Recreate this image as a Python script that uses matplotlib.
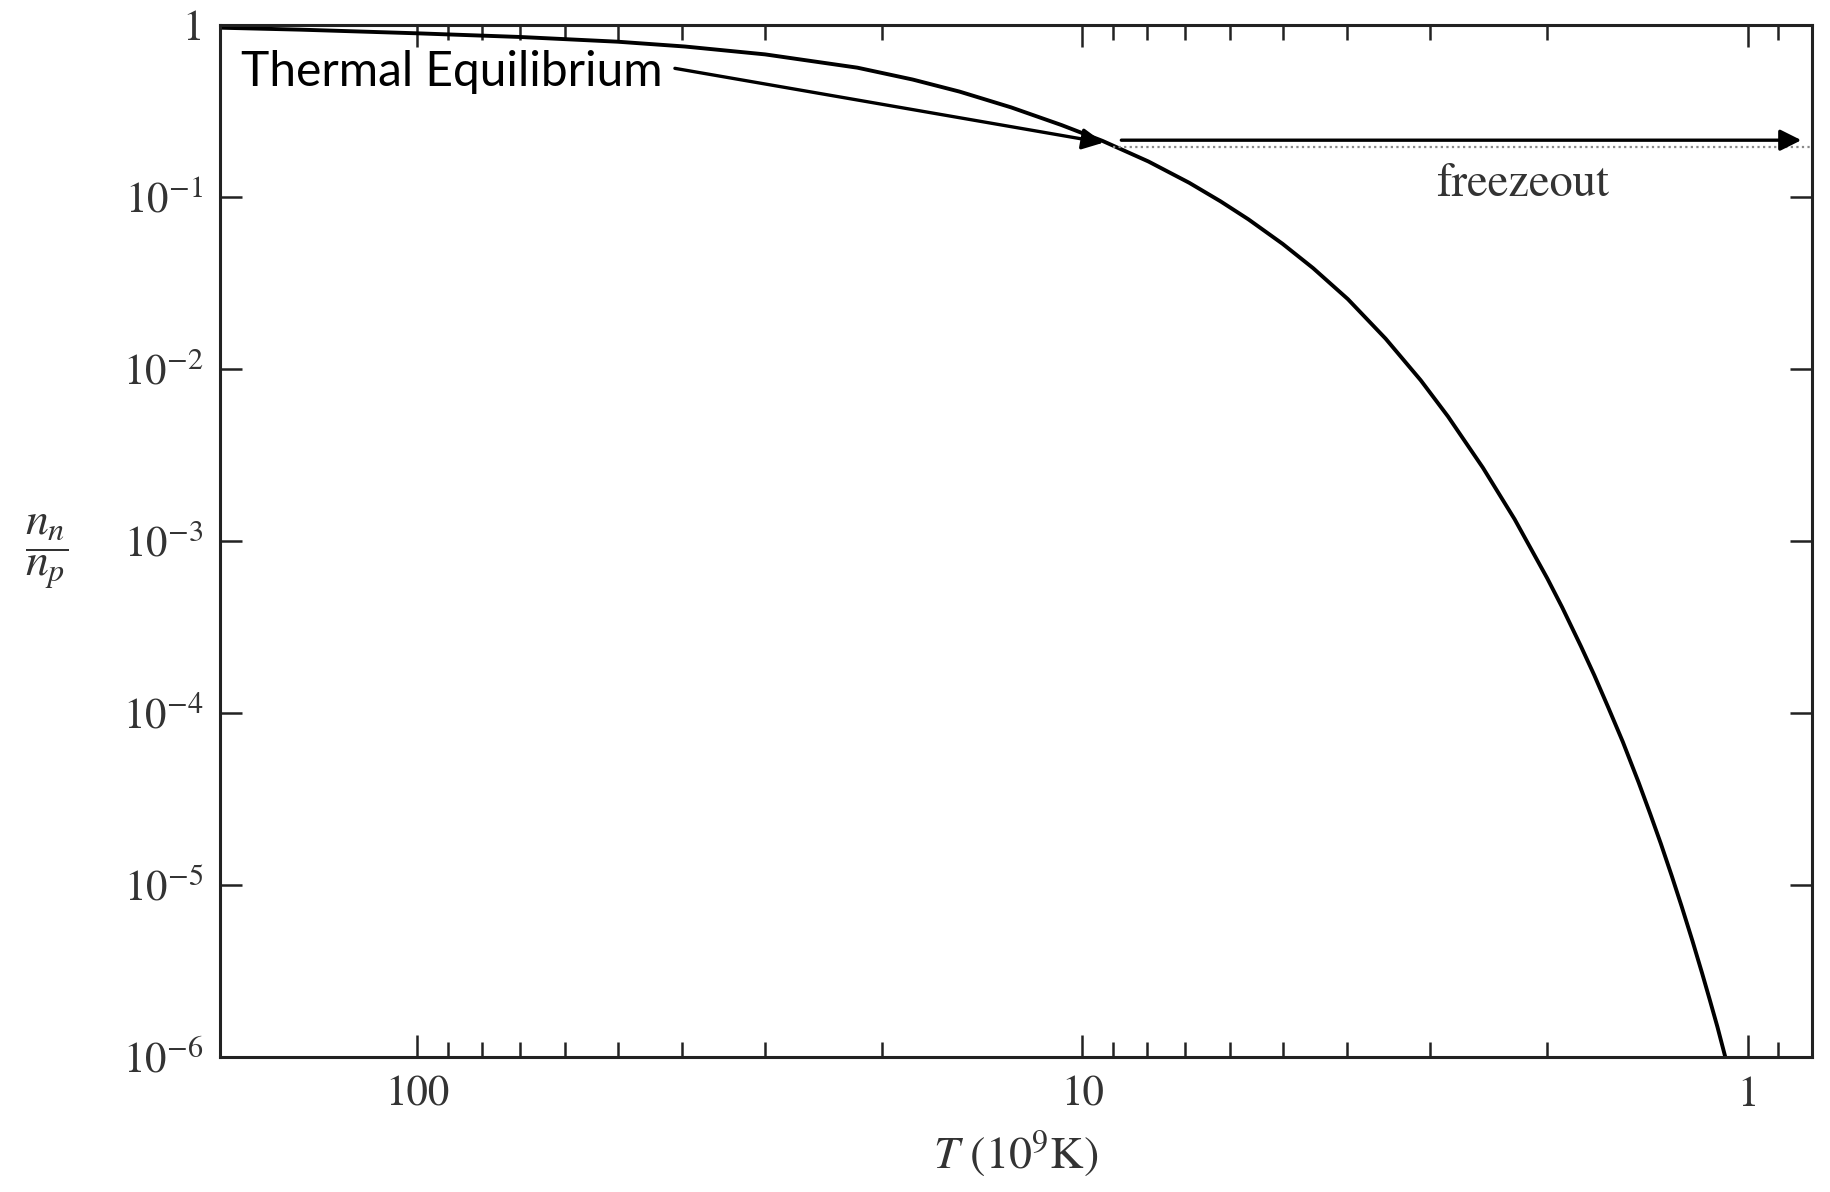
import matplotlib
matplotlib.use('Agg')
import matplotlib.pyplot as plt
from matplotlib.ticker import FixedLocator, FixedFormatter, NullFormatter

# ---- data ----
T_vals = [198, 150, 100, 70, 50, 39.6, 30, 21.8, 18, 15.3, 12.8, 10.75, 9.33,
          7.96, 6.91, 6.2, 5.63, 5.0, 4.5, 3.99, 3.5, 3.1, 2.82, 2.5, 2.24,
          2.0, 1.9, 1.78, 1.7, 1.62, 1.54, 1.458, 1.4, 1.35, 1.3, 1.256, 1.21,
          1.17, 1.14, 1.11, 1.08]
ratio_vals = [0.965, 0.94, 0.895, 0.852, 0.80, 0.75, 0.675, 0.565, 0.482, 0.41,
              0.332, 0.262, 0.212, 0.161, 0.121, 0.0944, 0.0742, 0.0534,
              0.0386, 0.0255, 0.0150, 0.0086, 0.00529, 0.00267, 0.00134,
              0.000606, 0.000412, 0.000244, 0.000166, 0.000108, 0.000068,
              0.0000395, 0.0000258, 0.0000174, 0.0000113, 0.0000075,
              0.00000473, 0.00000306, 0.00000216, 0.0000015, 0.000001]

freeze_T = [9.0, 0.80]
freeze_ratio = [0.195, 0.195]

x_ticks = [100, 10, 1]
x_tick_labels = ['100', '10', '1']
x_minor = [90, 80, 70, 60, 50, 40, 30, 20, 9, 8, 7, 6, 5, 4, 3, 2, 0.9, 0.8]
y_ticks = [1, 1e-1, 1e-2, 1e-3, 1e-4, 1e-5, 1e-6]
y_tick_labels = ['1', r'$10^{-1}$', r'$10^{-2}$', r'$10^{-3}$', r'$10^{-4}$',
                 r'$10^{-5}$', r'$10^{-6}$']

plt.rcParams['mathtext.fontset'] = 'stix'
plt.rcParams['font.family'] = 'STIXGeneral'

fig = plt.figure(figsize=(18.31, 11.92), dpi=100)
ax = fig.add_axes([0.1202, 0.1133, 0.8694, 0.8657])
ax.set_xscale('log')
ax.set_yscale('log')
ax.set_xlim(198, 0.80)
ax.set_ylim(1e-6, 1)

ax.plot(T_vals, ratio_vals, color='black', lw=2.8, solid_joinstyle='round')
ax.plot(freeze_T, freeze_ratio, color='#8a8a8a', lw=1.6, ls=(0, (1, 1.5)))

# ticks
ax.xaxis.set_major_locator(FixedLocator(x_ticks))
ax.xaxis.set_major_formatter(FixedFormatter(x_tick_labels))
ax.xaxis.set_minor_locator(FixedLocator(x_minor))
ax.xaxis.set_minor_formatter(NullFormatter())
ax.yaxis.set_major_locator(FixedLocator(y_ticks))
ax.yaxis.set_major_formatter(FixedFormatter(y_tick_labels))
ax.yaxis.set_minor_locator(FixedLocator([]))

ax.tick_params(axis='both', which='major', direction='in', length=16, width=1.8,
               labelsize=31, top=True, right=True, color='#222222')
ax.tick_params(axis='x', which='minor', direction='in', length=11, width=1.8,
               top=True, color='#222222')
ax.tick_params(axis='x', which='major', pad=14)
ax.tick_params(axis='y', which='major', pad=12)
for lab in ax.get_xticklabels() + ax.get_yticklabels():
    lab.set_color('#333333')

for s in ax.spines.values():
    s.set_linewidth(2.2)
    s.set_color('#222222')

ax.set_xlabel(r'$T$ (10$^9$K)', fontsize=33, color='#333333', labelpad=10)
ax.set_ylabel(r'$\dfrac{n_n}{n_p}$', fontsize=33, rotation=0, color='#333333',
              ha='center', va='center')
ax.yaxis.set_label_coords(-0.109, 0.49)

# annotations
ax.annotate('', xy=(0.83, 0.214), xytext=(8.74, 0.214),
            arrowprops=dict(arrowstyle='-|>', color='black', lw=2.4,
                            mutation_scale=32, shrinkA=0, shrinkB=0))
ax.annotate('', xy=(9.3, 0.207), xytext=(41.0, 0.56),
            arrowprops=dict(arrowstyle='-|>', color='black', lw=2.4,
                            mutation_scale=32, shrinkA=0, shrinkB=0))
ax.text(184, 0.53, 'Thermal Equilibrium', fontsize=34.5, family='Lato',
        ha='left', va='center', color='black')
ax.text(2.18, 0.118, 'freezeout', fontsize=33.5, ha='center', va='center',
        color='#333333')

fig.savefig('out.png', dpi=100, facecolor='white')
